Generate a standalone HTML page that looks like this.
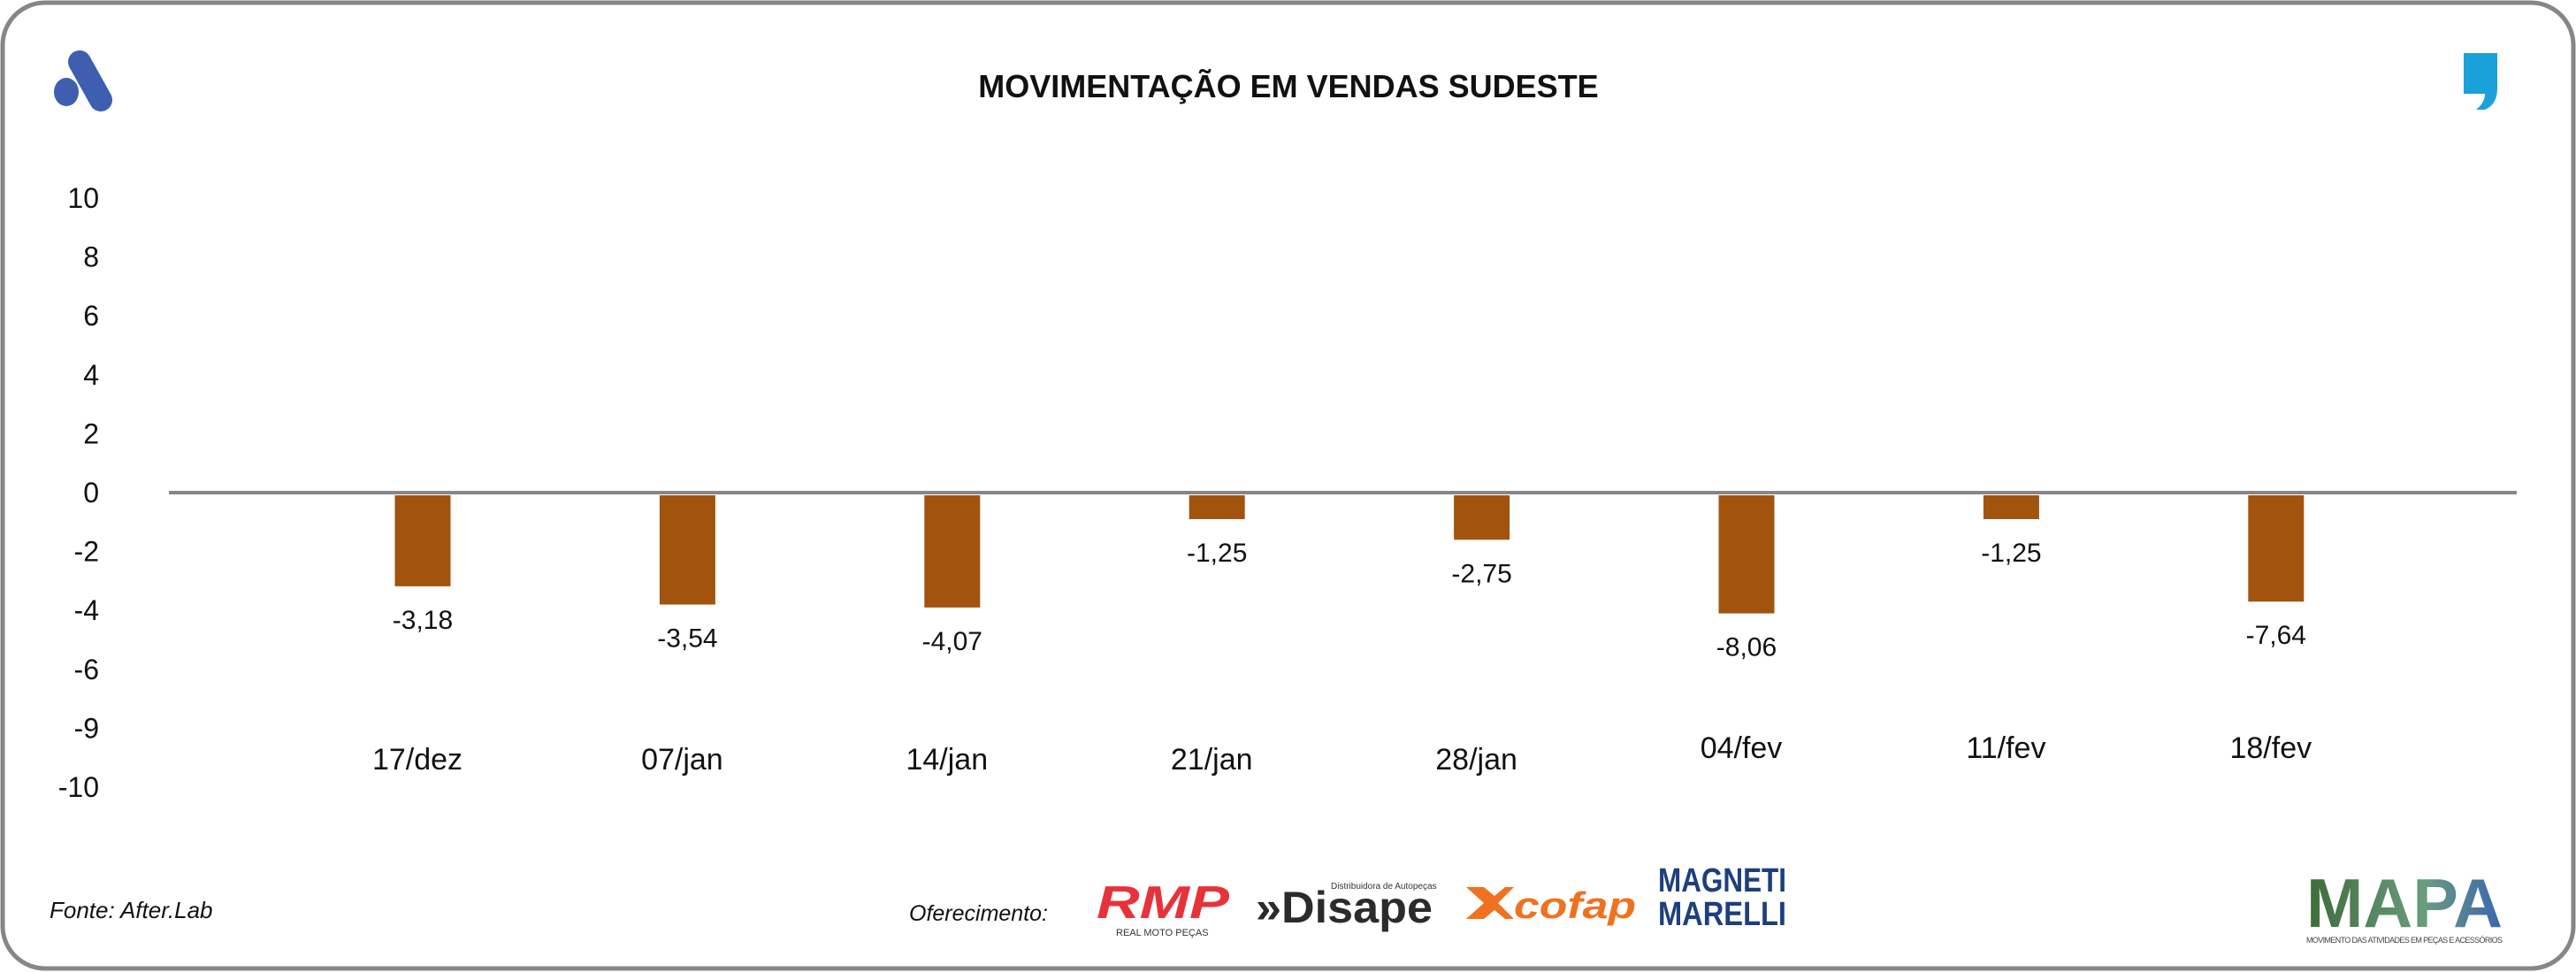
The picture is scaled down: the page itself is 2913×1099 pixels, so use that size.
<!DOCTYPE html>
<html><head><meta charset="utf-8">
<style>
html,body{margin:0;padding:0;background:#fff;}
svg{display:block;}
text{font-family:"Liberation Sans Narrow","Liberation Sans",sans-serif;fill:#111;}
</style></head>
<body>
<svg id="chart" width="2913" height="1099" viewBox="0 0 2913 1099" xmlns="http://www.w3.org/2000/svg">
<rect x="3" y="3" width="2907" height="1092" rx="48" fill="#fff" stroke="#86868a" stroke-width="5"/>
<g>
<line x1="90" y1="70" x2="114" y2="113" stroke="#3e5fb0" stroke-width="26" stroke-linecap="round"/>
<ellipse cx="75" cy="104" rx="14" ry="16" fill="#3e5fb0"/>
</g>
<g>
<path d="M2786 60 h38 v40 q0 18 -14 24 l-10 0 q10 -8 10 -18 h-24 z" fill="#1ba1d9"/>
</g>
<text x="1457" y="110" text-anchor="middle" font-size="36" font-weight="bold" style="font-family:'Liberation Sans',sans-serif">MOVIMENTAÇÃO EM VENDAS SUDESTE</text>
<g id="yaxis"></g>
<line x1="191" y1="557" x2="2846" y2="557" stroke="#86868a" stroke-width="4"/>
<g id="bars"></g>
<text x="56" y="1038" font-size="26" font-style="italic">Fonte: After.Lab</text>
<text x="1028" y="1041" font-size="25" font-style="italic">Oferecimento:</text>
<g>
<text x="1240" y="1038" font-size="52" font-weight="bold" font-style="italic" style="fill:#e8323a;font-family:'Liberation Sans',sans-serif" textLength="150" lengthAdjust="spacingAndGlyphs">RMP</text>
<text x="1262" y="1058" font-size="11" style="fill:#333">REAL MOTO PEÇAS</text>
</g>
<g>
<text x="1420" y="1043" font-size="50" font-weight="bold" style="fill:#2b2b2b;font-family:'Liberation Sans',sans-serif" textLength="200" lengthAdjust="spacingAndGlyphs">»Disape</text>
<text x="1505" y="1005" font-size="10" style="fill:#333">Distribuidora de Autopeças</text>
</g>
<g>
<path d="M1658 1003 l20 18 l-20 18 l20 0 l12 -10 l12 10 l10 0 l-18 -18 l18 -18 l-10 0 l-12 10 l-12 -10 z" fill="#f07120"/>
<text x="1712" y="1038" font-size="42" font-weight="bold" font-style="italic" style="fill:#f07120;font-family:'Liberation Sans',sans-serif" textLength="138" lengthAdjust="spacingAndGlyphs">cofap</text>
</g>
<g>
<text x="1875" y="1008" font-size="38" font-weight="bold" style="fill:#1d3f7e;font-family:'Liberation Sans',sans-serif" textLength="145" lengthAdjust="spacingAndGlyphs">MAGNETI</text>
<text x="1875" y="1046" font-size="38" font-weight="bold" style="fill:#1d3f7e;font-family:'Liberation Sans',sans-serif" textLength="145" lengthAdjust="spacingAndGlyphs">MARELLI</text>
</g>
<g>
<defs><linearGradient id="mg" x1="0" x2="1"><stop offset="0" stop-color="#3d6b3a"/><stop offset="0.6" stop-color="#6a9c7e"/><stop offset="1" stop-color="#3b66b0"/></linearGradient></defs>
<text x="2608" y="1048" font-size="78" font-weight="bold" style="fill:url(#mg);font-family:'Liberation Sans',sans-serif" textLength="222" lengthAdjust="spacingAndGlyphs">MAPA</text>
<text x="2608" y="1066" font-size="9" style="fill:#444" textLength="222">MOVIMENTO DAS ATIVIDADES EM PEÇAS E ACESSÓRIOS</text>
</g>
</svg>
<script>
const categories = ["17/dez","07/jan","14/jan","21/jan","28/jan","04/fev","11/fev","18/fev"];
const barValues = [-3.18,-3.8,-3.9,-0.9,-1.6,-4.1,-0.9,-3.7];
const valueLabels = ["-3,18","-3,54","-4,07","-1,25","-2,75","-8,06","-1,25","-7,64"];
const tickValues = [10,8,6,4,2,0,-2,-4,-6,-8,-10];
const tickLabels = ["10","8","6","4","2","0","-2","-4","-6","-9","-10"];
const catLabelOffsets = [0,0,0,0,0,-1,-1,-1];

const NS = "http://www.w3.org/2000/svg";
const y0 = 557, pxPerUnit = 33.3;
function yScale(v){ return y0 - v*pxPerUnit; }
const xStart = 478, xStep = 299.4;
function xScale(i){ return xStart + i*xStep; }

const yaxis = document.getElementById('yaxis');
tickValues.forEach((v,i)=>{
  const t = document.createElementNS(NS,'text');
  
  
  t.setAttribute('x',112); t.setAttribute('y',yScale(v)+11);
  t.setAttribute('text-anchor','end'); t.setAttribute('font-size','32');
  t.textContent = tickLabels[i];
  yaxis.appendChild(t);
});

const bars = document.getElementById('bars');
const barW = 63;
categories.forEach((c,i)=>{
  const cx = xScale(i);
  const top = y0+3, bot = yScale(barValues[i]);
  const r = document.createElementNS(NS,'rect');
  
  
  r.setAttribute('x',cx-barW/2); r.setAttribute('y',top);
  r.setAttribute('width',barW); r.setAttribute('height',Math.max(0,bot-top));
  r.setAttribute('fill','#a2540f');
  bars.appendChild(r);
  const vl = document.createElementNS(NS,'text');
  
  
  vl.setAttribute('x',cx); vl.setAttribute('y',bot+48);
  vl.setAttribute('text-anchor','middle'); vl.setAttribute('font-size','30');
  vl.textContent = valueLabels[i];
  bars.appendChild(vl);
  const cl = document.createElementNS(NS,'text');
  
  
  cl.setAttribute('x',cx-6); cl.setAttribute('y',870 + catLabelOffsets[i]*13);
  cl.setAttribute('text-anchor','middle'); cl.setAttribute('font-size','34');
  cl.textContent = c;
  bars.appendChild(cl);
});
</script>
</body></html>
